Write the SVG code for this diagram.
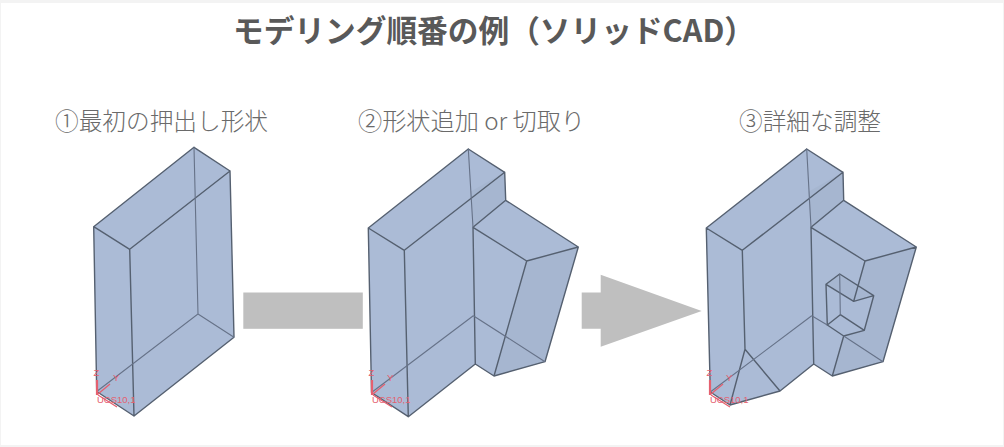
<svg xmlns="http://www.w3.org/2000/svg" width="1004" height="447" viewBox="0 0 1004 447">
<style>
.t{font-family:"Noto Sans CJK JP","Noto Sans",sans-serif;fill:#595959}
.h{font-size:23.5px;font-weight:300;fill:#6a6a6a}
.f{fill:#abbbd6;stroke:none}
.d{fill:#a6b6d0;stroke:none}
.e{fill:none;stroke:#556070;stroke-width:1.4;stroke-linejoin:round;stroke-linecap:round}
.b{fill:none;stroke:#667288;stroke-width:1.1}
.a{fill:#bfbfbf}
.r{fill:none;stroke:#e4606f;stroke-width:1.3}
.o{fill:none;stroke:#e4606f;stroke-width:2.2}
.rt{font-family:"Liberation Sans",sans-serif;font-size:9.5px;fill:#e4606f}
</style>
<rect width="1004" height="447" fill="#f3f3f3"/>
<rect x="1" y="3" width="1002" height="442" fill="#fff"/>
<text class="t" x="233" y="42" font-size="31" font-weight="700" textLength="522" lengthAdjust="spacingAndGlyphs">モデリング順番の例（ソリッドCAD）</text>
<text class="t h" x="55" y="130" textLength="213" lengthAdjust="spacingAndGlyphs">①最初の押出し形状</text>
<text class="t h" x="358" y="130" textLength="227" lengthAdjust="spacingAndGlyphs">②形状追加 or 切取り</text>
<text class="t h" x="739" y="130" textLength="142" lengthAdjust="spacingAndGlyphs">③詳細な調整</text>

<g id="shape1">
<polygon class="f" points="194,147.3 230,171 234,337.3 134,416 96.7,391.5 93.7,226.7"/>
<path class="e" d="M194,147.3 230,171 234,337.3 134,416 129.7,249.3 93.7,226.7 96.7,391.5 134,416M93.7,226.7 194,147.3M129.7,249.3 230,171"/>
<path class="b" d="M194,147.3 198,314 96.7,391.5M198,314 234,337.3"/>
</g>

<g id="shape2">
<polygon class="f" points="468.3,149 504.7,172.3 505.7,200.3 578.3,247 545,361.7 494,376 475.3,364 408.3,416.7 371.5,392.5 368.3,228"/>
<polygon class="d" points="504.7,172.3 505.7,200.3 473,227.3 470,192"/>
<polygon class="d" points="526.7,261 578.3,247 545,361.7 494,376"/>
<path class="e" d="M468.3,149 504.7,172.3 505.7,200.3 578.3,247 545,361.7 494,376 475.3,364 408.3,416.7 404.3,250.3 368.3,228 371.5,392.5 408.3,416.7M368.3,228 468.3,149M404.3,250.3 504.7,172.3M505.7,200.3 473,227.3 526.7,261 578.3,247M526.7,261 494,376M473,227.3 475.3,364"/>
<path class="b" d="M468.3,149 473,227.3M473.3,315.7 371.5,392.5M473.3,315.7 545,361.7"/>
</g>

<g id="shape3">
<polygon class="f" points="806.7,149 843,172.3 843.7,200.3 916.3,247 883,361.7 832.3,376 813.7,364 780,391 730,405 710.3,392 706.3,228"/>
<polygon class="d" points="843,172.3 843.7,200.3 811,227.3 808,192"/>
<polygon class="d" points="865,261 916.3,247 883,361.7 832.3,376 843.7,336 864.3,330.3 873.7,295.7 853.7,301.3"/>
<polygon class="d" points="839.7,274 873.7,295.7 853.7,301.3 826,284.3"/>
<path class="e" d="M806.7,149 843,172.3 843.7,200.3 916.3,247 883,361.7 832.3,376 813.7,364 780,391 730,405 710.3,392 706.3,228 806.7,149M706.3,228 742.3,250.3 745,349.3 780,391M742.3,250.3 843,172.3M745,349.3 730,405M843.7,200.3 811,227.3 865,261 916.3,247M811,227.3 813.7,364M865,261 853.7,301.3M826,284.3 839.7,274 873.7,295.7 864.3,330.3 843.7,336 827.3,325 826,284.3 853.7,301.3 873.7,295.7M827.3,325 840.3,314.7 864.3,330.3M843.7,336 832.3,376"/>
<path class="b" d="M806.7,149 811,227.3M839.7,274 840.3,314.7M811.7,315.7 710.3,392M811.7,315.7 827.3,325M843.7,336 883,361.7"/>
</g>

<g id="connectors">
<rect class="a" x="243.3" y="292.5" width="119.5" height="36.3"/>
<polygon class="a" points="581.7,292.5 600.7,292.5 600.7,274.7 701.7,311 600.7,346.7 600.7,328.8 581.7,328.8"/>
</g>

<g id="axes1">
<path class="o" d="M97,380V395"/>
<path class="r" d="M98,394 110,384M98,395 117,407"/>
<text class="rt" x="93.5" y="376">Z</text><text class="rt" x="113" y="381">Y</text><text class="rt" x="97" y="403">UCS10,1</text>
</g>
<g id="axes2">
<path class="o" d="M372,380V395"/>
<path class="r" d="M373,394 385,384M373,395 392,407"/>
<text class="rt" x="368.5" y="376">Z</text><text class="rt" x="387" y="381">Y</text><text class="rt" x="372" y="403">UCS10,1</text>
</g>
<g id="axes3">
<path class="o" d="M710,380V395"/>
<path class="r" d="M711,394 723,384M711,395 730,407"/>
<text class="rt" x="706.5" y="376">Z</text><text class="rt" x="726" y="381">Y</text><text class="rt" x="710" y="403">UCS10,1</text>
</g>
</svg>
